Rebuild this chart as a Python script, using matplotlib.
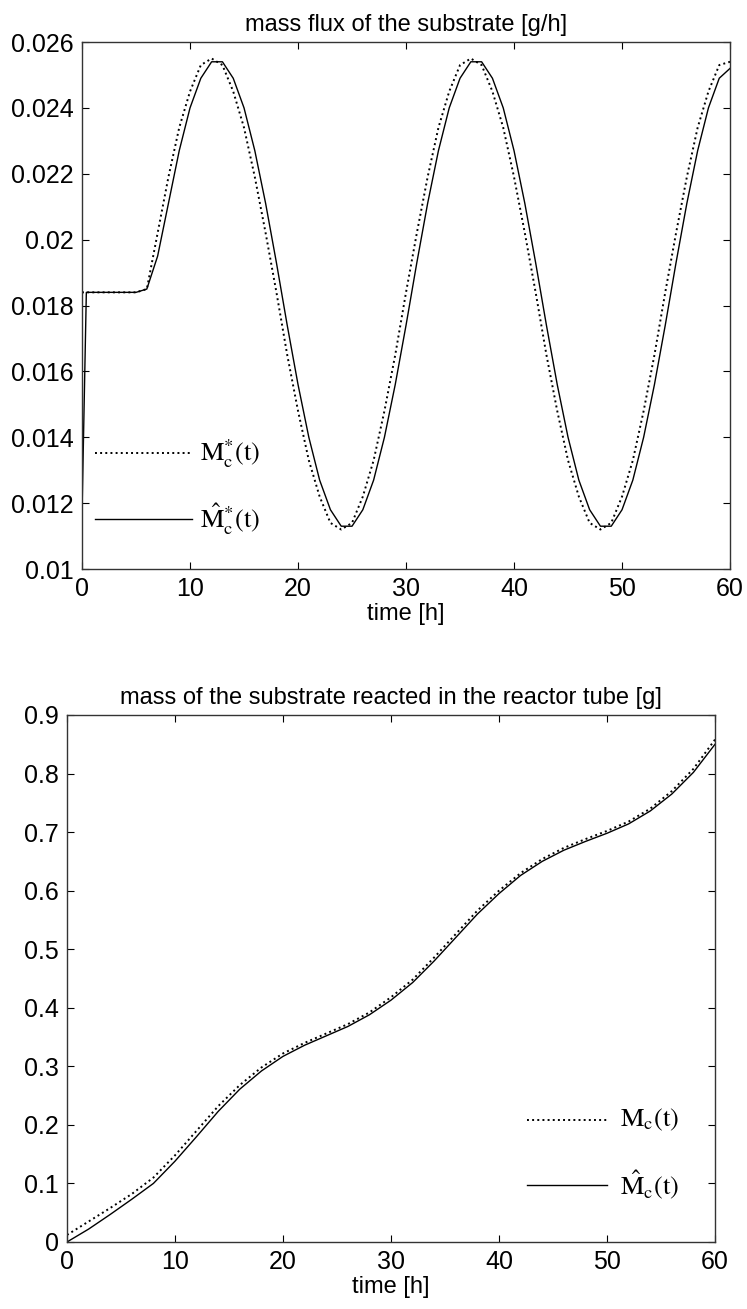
import numpy as np
import matplotlib
matplotlib.use('Agg')
import matplotlib.pyplot as plt

plt.rcParams['font.family'] = ['Liberation Sans', 'DejaVu Sans']
plt.rcParams['mathtext.fontset'] = 'stix'

# --- top: mass flux of the substrate [g/h] ---
t_flux = list(range(0, 61))
flux_ref = [0.0184, 0.0184, 0.0184, 0.0184, 0.0184, 0.0184, 0.0185,
            0.0202, 0.0219, 0.0234, 0.0245, 0.0253, 0.0255, 0.0253, 0.0245,
            0.0234, 0.0219, 0.0202, 0.0184, 0.0165, 0.0148, 0.0133, 0.0122,
            0.0114, 0.0112, 0.0114, 0.0122, 0.0133, 0.0148, 0.0165, 0.0184,
            0.0202, 0.0219, 0.0234, 0.0245, 0.0253, 0.0255, 0.0253, 0.0245,
            0.0234, 0.0219, 0.0202, 0.0184, 0.0165, 0.0148, 0.0133, 0.0122,
            0.0114, 0.0112, 0.0114, 0.0122, 0.0133, 0.0148, 0.0165, 0.0184,
            0.0202, 0.0219, 0.0234, 0.0245, 0.0253, 0.0254]

t_flux_est = [0, 0.4] + list(range(1, 61))
flux_est = [0.0117, 0.0184, 0.0184, 0.0184, 0.0184, 0.0184, 0.0184, 0.0185,
            0.0195, 0.0211, 0.0227, 0.0240, 0.0249, 0.0254, 0.0254, 0.0249,
            0.0240, 0.0227, 0.0211, 0.0193, 0.0174, 0.0156, 0.0140, 0.0127,
            0.0118, 0.0113, 0.0113, 0.0118, 0.0127, 0.0140, 0.0156, 0.0174,
            0.0193, 0.0211, 0.0227, 0.0240, 0.0249, 0.0254, 0.0254, 0.0249,
            0.0240, 0.0227, 0.0211, 0.0193, 0.0174, 0.0156, 0.0140, 0.0127,
            0.0118, 0.0113, 0.0113, 0.0118, 0.0127, 0.0140, 0.0156, 0.0174,
            0.0193, 0.0211, 0.0227, 0.0240, 0.0249, 0.0252]

# --- bottom: mass of the substrate reacted [g] ---
t_mass = list(range(0, 61, 2))
mass_ref = [0.012, 0.035, 0.058, 0.082, 0.110, 0.148, 0.190, 0.232, 0.268,
            0.298, 0.322, 0.340, 0.356, 0.372, 0.392, 0.418, 0.448, 0.486,
            0.526, 0.566, 0.600, 0.630, 0.654, 0.673, 0.688, 0.702, 0.718,
            0.740, 0.770, 0.808, 0.858]
mass_est = [0.000, 0.022, 0.047, 0.073, 0.100, 0.138, 0.180, 0.223, 0.261,
            0.292, 0.317, 0.336, 0.352, 0.368, 0.388, 0.413, 0.443, 0.480,
            0.520, 0.560, 0.595, 0.626, 0.650, 0.669, 0.684, 0.698, 0.714,
            0.736, 0.765, 0.802, 0.850]

flux_ticks = [0.01, 0.012, 0.014, 0.016, 0.018, 0.02, 0.022, 0.024, 0.026]
flux_ticklabels = ['0.01', '0.012', '0.014', '0.016', '0.018', '0.02',
                   '0.022', '0.024', '0.026']
mass_ticks = [0, 0.1, 0.2, 0.3, 0.4, 0.5, 0.6, 0.7, 0.8, 0.9]
mass_ticklabels = ['0', '0.1', '0.2', '0.3', '0.4', '0.5', '0.6', '0.7',
                   '0.8', '0.9']
time_ticks = [0, 10, 20, 30, 40, 50, 60]

fig = plt.figure(figsize=(7.47, 13.09), dpi=100)
ax1 = fig.add_axes([0.1098, 0.5653, 0.8675, 0.4026])
ax2 = fig.add_axes([0.0897, 0.0512, 0.8675, 0.4026])

lbl_font = 18
for ax in (ax1, ax2):
    ax.tick_params(direction='in', length=5, width=0.8, labelsize=lbl_font,
                   top=True, right=True, pad=6)
    for sp in ax.spines.values():
        sp.set_linewidth(1.0)
        sp.set_color('#333333')
    ax.set_xlim(0, 60)
    ax.set_xticks(time_ticks)
    ax.set_xlabel('time [h]', fontsize=17, labelpad=1)

ax1.plot(t_flux, flux_ref, color='black', linestyle=':', linewidth=1.4)
ax1.plot(t_flux_est, flux_est, color='black', linestyle='-', linewidth=1.0)
ax1.set_ylim(0.01, 0.026)
ax1.set_yticks(flux_ticks)
ax1.set_yticklabels(flux_ticklabels)
ax1.set_title('mass flux of the substrate [g/h]', fontsize=17, pad=8)

ax2.plot(t_mass, mass_ref, color='black', linestyle=':', linewidth=1.4)
ax2.plot(t_mass, mass_est, color='black', linestyle='-', linewidth=1.0)
ax2.set_ylim(0, 0.9)
ax2.set_yticks(mass_ticks)
ax2.set_yticklabels(mass_ticklabels)
ax2.set_title('mass of the substrate reacted in the reactor tube [g]',
              fontsize=17, pad=8)

# hand-placed legend like the original
leg_font = 19
ax1.plot([0.02, 0.17], [0.22, 0.22], transform=ax1.transAxes, color='black',
         linestyle=':', linewidth=1.4)
ax1.plot([0.02, 0.17], [0.095, 0.095], transform=ax1.transAxes,
         color='black', linewidth=1.0)
ax1.text(0.182, 0.22, r'$\mathrm{M}_{\mathrm{c}}^{*}\mathrm{(t)}$',
         transform=ax1.transAxes, fontsize=leg_font, va='center')
ax1.text(0.182, 0.095, r'$\hat{\mathrm{M}}_{\mathrm{c}}^{*}\mathrm{(t)}$',
         transform=ax1.transAxes, fontsize=leg_font, va='center')

ax2.plot([0.71, 0.833], [0.231, 0.231], transform=ax2.transAxes,
         color='black', linestyle=':', linewidth=1.4)
ax2.plot([0.71, 0.833], [0.108, 0.108], transform=ax2.transAxes,
         color='black', linewidth=1.0)
ax2.text(0.853, 0.231, r'$\mathrm{M}_{\mathrm{c}}\mathrm{(t)}$',
         transform=ax2.transAxes, fontsize=leg_font, va='center')
ax2.text(0.853, 0.108, r'$\hat{\mathrm{M}}_{\mathrm{c}}\mathrm{(t)}$',
         transform=ax2.transAxes, fontsize=leg_font, va='center')

fig.savefig('out.png', dpi=100)
